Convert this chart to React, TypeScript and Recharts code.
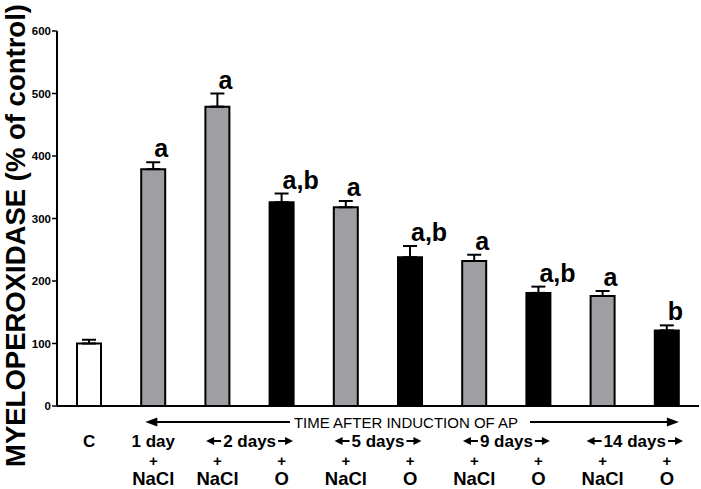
import { Bar, BarChart, Cell, ErrorBar, LabelList, XAxis, YAxis } from "recharts";

const FONT = "'Liberation Sans', Arial, Helvetica, sans-serif";
const W = 701;
const H = 489;
const MARGIN = { top: 31, right: 2, left: 0, bottom: 0 };
const Y_W = 57;
const X_H = 83;

const TIMES = ["C", "1 day", "2 days", "2 days", "5 days", "5 days", "9 days", "9 days", "14 days", "14 days"];
const TREATMENTS = ["", "NaCl", "NaCl", "O", "NaCl", "O", "NaCl", "O", "NaCl", "O"];
const MPO = [100, 379, 479, 326, 318, 238, 232, 181, 176, 121]; // % of control
const SEM = [6, 11, 21, 14, 10, 18, 10, 10, 8, 8];
const SIG = ["", "a", "a", "a,b", "a", "a,b", "a", "a,b", "a", "b"];
const Y_TICKS = [0, 100, 200, 300, 400, 500, 600];

const FILL: Record<string, string> = { "": "#ffffff", NaCl: "#9f9fa3", O: "#000000" };

const data = MPO.map((v, i) => ({
  key: `${TIMES[i]} ${TREATMENTS[i]}`,
  mpo: v,
  err: [0, SEM[i]],
  sig: SIG[i],
}));

// width of the category band, derived from the chart box
const BAND = (W - MARGIN.left - MARGIN.right - Y_W) / TIMES.length;

// rough bold-Arial advance widths, for placing the little arrows
const CW: Record<string, number> = { " ": 0.278, d: 0.611, a: 0.556, y: 0.556, s: 0.556 };
const textW = (s: string, size: number) => s.split("").reduce((a, c) => a + (CW[c] ?? 0.556), 0) * size;

function head(x: number, y: number, dir: 1 | -1, len: number, half: number) {
  // tip at x, pointing in dir
  return `M${x},${y} L${x - dir * len},${y - half} L${x - dir * len},${y + half} Z`;
}

function DayTick(props: any) {
  const { x, y, index } = props;
  const i = index as number;
  const t = TIMES[i];
  const row1 = y + 33;
  let top = null;
  if (TIMES[i + 1] === t) {
    const cx = x + BAND / 2;
    const tw = textW(t, 17);
    const l = cx - tw / 2 - 2;
    const r = cx + tw / 2 + 2;
    const ay = row1 - 6;
    top = (
      <g>
        <text x={cx} y={row1} textAnchor="middle" fontSize={17} fontWeight="bold" fill="#000">
          {t}
        </text>
        <line x1={l - 12} y1={ay} x2={l} y2={ay} stroke="#000" strokeWidth={2} />
        <path d={head(l - 15, ay, -1, 8, 4)} fill="#000" />
        <line x1={r} y1={ay} x2={r + 12} y2={ay} stroke="#000" strokeWidth={2} />
        <path d={head(r + 15, ay, 1, 8, 4)} fill="#000" />
      </g>
    );
  } else if (TIMES[i - 1] !== t) {
    top = (
      <text x={x} y={row1} textAnchor="middle" fontSize={17} fontWeight="bold" fill="#000">
        {t}
      </text>
    );
  }
  return (
    <g fontFamily={FONT}>
      {top}
      {TREATMENTS[i] && (
        <>
          <text x={x} y={y + 52} textAnchor="middle" fontSize={15} fontWeight="bold" fill="#000">
            +
          </text>
          <text x={x} y={y + 70.5} textAnchor="middle" fontSize={18.5} fontWeight="bold" fill="#000">
            {TREATMENTS[i]}
          </text>
        </>
      )}
    </g>
  );
}

function TimeLabel(props: any) {
  const vb = props.viewBox ?? { x: Y_W, y: H - X_H, width: W - Y_W - MARGIN.right, height: X_H };
  const left = vb.x + BAND * 1.5 - 8;
  const right = vb.x + BAND * 9.5 + 12;
  const cx = vb.x + vb.width / 2 + 28;
  const half = 112;
  const ay = vb.y + 16;
  return (
    <g fontFamily={FONT}>
      <line x1={left + 10} y1={ay} x2={cx - half - 4} y2={ay} stroke="#000" strokeWidth={2} />
      <path d={head(left, ay, -1, 12, 4.5)} fill="#000" />
      <text x={cx} y={vb.y + 22} textAnchor="middle" fontSize={15} fill="#000">
        TIME AFTER INDUCTION OF AP
      </text>
      <line x1={cx + half + 12} y1={ay} x2={right - 10} y2={ay} stroke="#000" strokeWidth={2} />
      <path d={head(right, ay, 1, 12, 4.5)} fill="#000" />
    </g>
  );
}

function TitleLabel(props: any) {
  const vb = props.viewBox ?? { x: 0, y: MARGIN.top, width: Y_W, height: H - MARGIN.top - X_H };
  return (
    <text
      transform={`translate(${vb.x + 25}, ${vb.y + vb.height / 2 + 17}) rotate(-90)`}
      textAnchor="middle"
      fontFamily={FONT}
      fontSize={27.5}
      fontWeight="bold"
      fill="#000"
    >
      MYELOPEROXIDASE (% of control)
    </text>
  );
}

function SigLabel(props: any) {
  const { x, y, width, height, index, value } = props;
  if (!value) return null;
  const capY = y - (SEM[index] * height) / MPO[index];
  return (
    <text x={x + width / 2 + 1} y={capY - 5} fontFamily={FONT} fontSize={25} fontWeight="bold" fill="#000">
      {value}
    </text>
  );
}

export default function App() {
  return (
    <div style={{ position: "absolute", left: 0, top: 0, background: "#fff" }}>
      <BarChart width={W} height={H} data={data} margin={MARGIN} barSize={24}>
        <XAxis
          dataKey="key"
          height={X_H}
          interval={0}
          tickLine={false}
          axisLine={{ stroke: "#000", strokeWidth: 2 }}
          tick={(p: any) => <DayTick {...p} />}
          label={{ content: (p: any) => <TimeLabel {...p} /> }}
        />
        <YAxis
          width={Y_W}
          domain={[0, 600]}
          ticks={Y_TICKS}
          interval={0}
          tickSize={5}
          tickMargin={1}
          axisLine={{ stroke: "#000", strokeWidth: 2 }}
          tickLine={{ stroke: "#000", strokeWidth: 1.5 }}
          tick={{ fill: "#000", fontSize: 11.5, fontWeight: "bold", fontFamily: FONT }}
          label={{ content: (p: any) => <TitleLabel {...p} /> }}
        />
        <Bar dataKey="mpo" stroke="#000" strokeWidth={2} isAnimationActive={false}>
          {data.map((d, i) => (
            <Cell key={d.key} fill={FILL[TREATMENTS[i]]} />
          ))}
          <ErrorBar dataKey="err" width={7} stroke="#000" strokeWidth={2} direction="y" isAnimationActive={false} />
          <LabelList dataKey="sig" content={(p: any) => <SigLabel {...p} />} />
        </Bar>
      </BarChart>
    </div>
  );
}
